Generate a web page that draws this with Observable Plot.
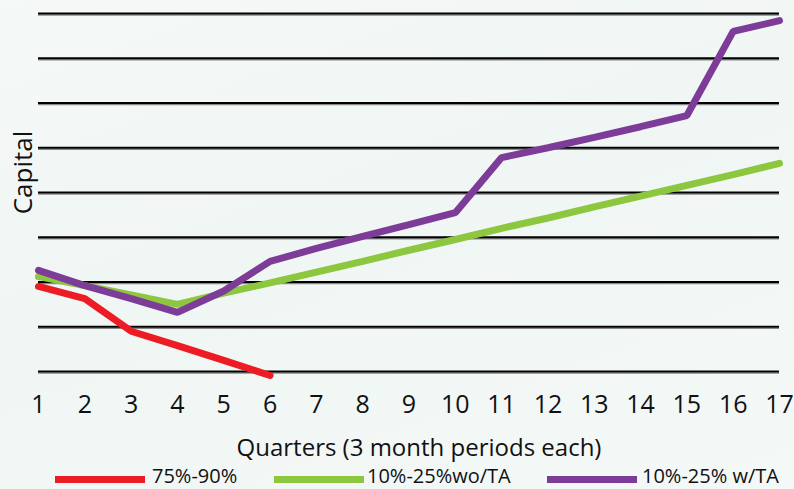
<!DOCTYPE html>
<html>
<head>
<meta charset="utf-8">
<script src="https://cdn.jsdelivr.net/npm/d3@7"></script>
<script src="https://cdn.jsdelivr.net/npm/@observablehq/plot@0.6"></script>
<style>
  html, body { margin: 0; padding: 0; }
  body { width: 794px; height: 489px; overflow: hidden;
         background: linear-gradient(160deg, #f5f9f8 0%, #f0f6f4 45%, #f4f9f8 100%);
         font-family: "Open Sans", sans-serif; }
  #wrap { position: relative; width: 794px; height: 489px; }
  #wrap svg { position: absolute; left: 0; top: 0; background: transparent; }
  .sw { position: absolute; height: 7px; }
  .lt { position: absolute; font-size: 20px; line-height: 24px; color: #111; white-space: nowrap; }
</style>
</head>
<body>
<div id="wrap"></div>
<script>
const quarters = [1,2,3,4,5,6,7,8,9,10,11,12,13,14,15,16,17];
const seriesNames = ["75%-90%", "10%-25%wo/TA", "10%-25% w/TA"];
const seriesColors = ["#ed1c24", "#8dc63f", "#7d3c98"];
const red = [1.9, 1.63, 0.9, 0.58, 0.25, -0.09];
const green = [2.12, 1.92, 1.71, 1.5, 1.75, 1.98, 2.22, 2.46, 2.71, 2.95, 3.2, 3.43, 3.68, 3.92, 4.16, 4.4, 4.65];
const purple = [2.26, 1.92, 1.63, 1.32, 1.8, 2.46, 2.75, 3.02, 3.28, 3.55, 4.78, 5.0, 5.23, 5.47, 5.72, 7.6, 7.84];
const gridValues = [0,1,2,3,4,5,6,7,8];
const xLabel = "Quarters (3 month periods each)";
const yLabel = "Capital";

const rows = [];
[red, green, purple].forEach((vals, s) => {
  vals.forEach((v, i) => rows.push({q: quarters[i], v, s: seriesNames[s]}));
});

const chart = Plot.plot({
  width: 794,
  height: 489,
  marginLeft: 38,
  marginRight: 15,
  marginTop: 13,
  marginBottom: 118,
  style: {background: "transparent", fontFamily: "Open Sans, sans-serif", color: "#111"},
  x: {domain: [1, 17]},
  y: {domain: [0, 8], axis: null},
  color: {domain: seriesNames, range: seriesColors},
  marks: [
    Plot.ruleY(gridValues, {stroke: "#888", strokeWidth: 1.5, dy: 1.5}),
    Plot.ruleY(gridValues, {stroke: "#000", strokeWidth: 2.2}),
    Plot.axisX(quarters, {tickSize: 0, tickPadding: 24, fontSize: 25, label: null}),
    Plot.text([xLabel], {frameAnchor: "bottom", textAnchor: "middle", dx: 10, dy: 84, fontSize: 24, lineAnchor: "bottom", fill: "#111"}),
    Plot.text([yLabel], {frameAnchor: "left", textAnchor: "middle", rotate: -90, dx: -15, dy: -20, fontSize: 26, fill: "#111"}),
    Plot.line(rows, {x: "q", y: "v", z: "s", stroke: "s", strokeWidth: 7, strokeLinecap: "round", strokeLinejoin: "miter"})
  ]
});
const wrap = document.getElementById("wrap");
wrap.appendChild(chart);

const legendPos = [[55, 152], [274, 367], [547, 642]];
seriesNames.forEach((name, i) => {
  const sw = document.createElement("div");
  sw.className = "sw";
  sw.style.left = legendPos[i][0] + "px";
  sw.style.width = "90px";
  sw.style.top = "476px";
  sw.style.background = seriesColors[i];
  wrap.appendChild(sw);
  const t = document.createElement("div");
  t.className = "lt";
  t.style.left = legendPos[i][1] + "px";
  t.style.top = "464px";
  t.textContent = name;
  wrap.appendChild(t);
});
</script>
</body>
</html>
